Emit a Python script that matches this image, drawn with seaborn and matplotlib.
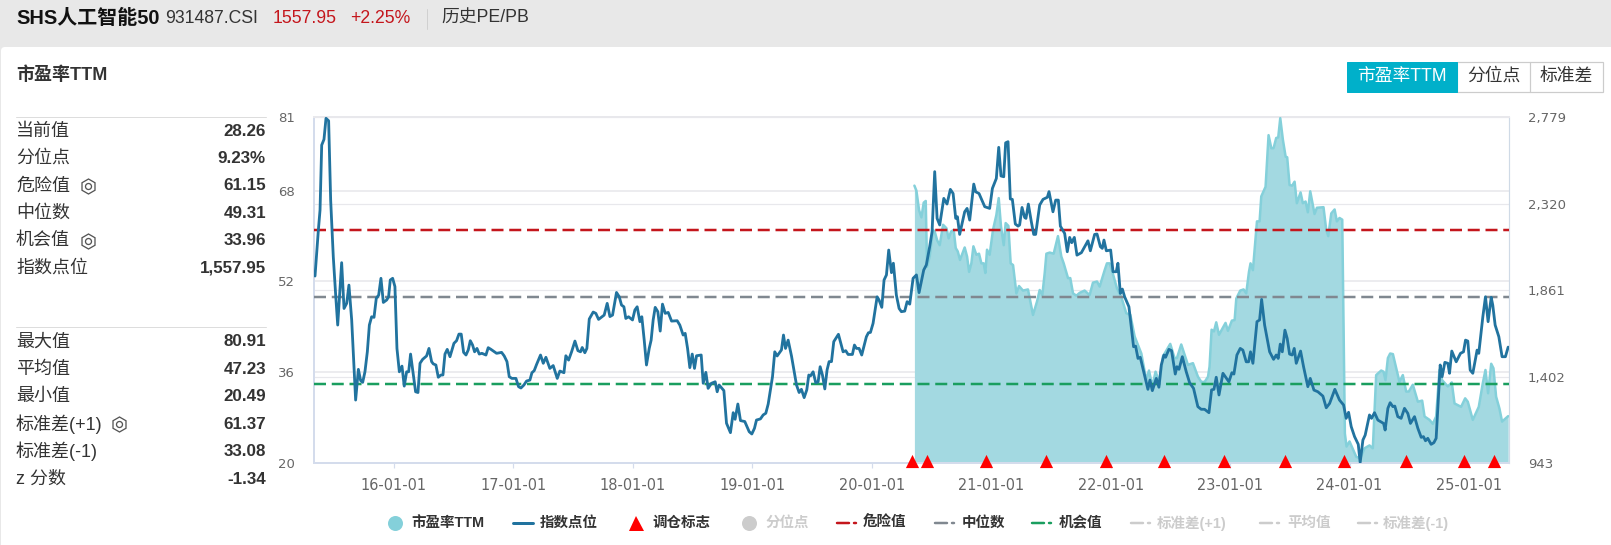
import matplotlib
matplotlib.use("Agg")
import matplotlib.pyplot as plt
import pandas as pd
import seaborn as sns
from matplotlib.lines import Line2D
from matplotlib.patches import FancyBboxPatch, Rectangle
from matplotlib.transforms import IdentityTransform

# year fraction + index points
index_dates = [
    2015.339, 2015.367, 2015.381, 2015.395, 2015.414, 2015.431, 2015.453, 2015.470, 2015.492, 2015.512,
    2015.529, 2015.562, 2015.582, 2015.604, 2015.623, 2015.646, 2015.679, 2015.702, 2015.721, 2015.738,
    2015.757, 2015.777, 2015.794, 2015.813, 2015.833, 2015.852, 2015.872, 2015.891, 2015.911, 2015.939,
    2015.955, 2015.969, 2015.989, 2016.008, 2016.025, 2016.045, 2016.067, 2016.086, 2016.106, 2016.123,
    2016.139, 2016.162, 2016.181, 2016.201, 2016.218, 2016.240, 2016.273, 2016.293, 2016.315, 2016.329,
    2016.351, 2016.371, 2016.393, 2016.410, 2016.427, 2016.446, 2016.469, 2016.502, 2016.524, 2016.544,
    2016.563, 2016.583, 2016.603, 2016.622, 2016.639, 2016.658, 2016.675, 2016.695, 2016.714, 2016.736,
    2016.770, 2016.789, 2016.812, 2016.859, 2016.901, 2016.923, 2016.946, 2016.965, 2016.987, 2017.021,
    2017.043, 2017.063, 2017.088, 2017.110, 2017.138, 2017.155, 2017.174, 2017.194, 2017.227, 2017.250,
    2017.272, 2017.305, 2017.333, 2017.367, 2017.389, 2017.423, 2017.439, 2017.462, 2017.487, 2017.515,
    2017.540, 2017.562, 2017.576, 2017.598, 2017.615, 2017.635, 2017.668, 2017.690, 2017.713, 2017.760,
    2017.785, 2017.808, 2017.830, 2017.863, 2017.886, 2017.905, 2017.925, 2017.941, 2017.964, 2017.997,
    2018.017, 2018.036, 2018.059, 2018.075, 2018.095, 2018.114, 2018.137, 2018.153, 2018.170, 2018.187,
    2018.209, 2018.229, 2018.248, 2018.271, 2018.296, 2018.324, 2018.371, 2018.393, 2018.421, 2018.438,
    2018.458, 2018.477, 2018.497, 2018.516, 2018.533, 2018.572, 2018.589, 2018.611, 2018.630, 2018.658,
    2018.689, 2018.706, 2018.722, 2018.762, 2018.784, 2018.817, 2018.840, 2018.856, 2018.879, 2018.901,
    2018.937, 2018.974, 2018.996, 2019.018, 2019.035, 2019.068, 2019.091, 2019.113, 2019.133, 2019.169,
    2019.188, 2019.208, 2019.244, 2019.261, 2019.278, 2019.300, 2019.328, 2019.370, 2019.392, 2019.411,
    2019.434, 2019.456, 2019.473, 2019.487, 2019.509, 2019.531, 2019.551, 2019.568, 2019.587, 2019.607,
    2019.626, 2019.643, 2019.663, 2019.682, 2019.721, 2019.760, 2019.782, 2019.802, 2019.838, 2019.855,
    2019.872, 2019.894, 2019.916, 2019.955, 2019.972, 2019.989, 2020.011, 2020.045, 2020.061, 2020.084,
    2020.103, 2020.123, 2020.142, 2020.165, 2020.181, 2020.206, 2020.229, 2020.248, 2020.276, 2020.296,
    2020.318, 2020.346, 2020.374, 2020.396, 2020.435, 2020.457, 2020.485, 2020.505, 2020.527, 2020.547,
    2020.569, 2020.603, 2020.630, 2020.658, 2020.681, 2020.703, 2020.717, 2020.736, 2020.778, 2020.798,
    2020.820, 2020.854, 2020.870, 2020.898, 2020.946, 2020.987, 2021.010, 2021.043, 2021.063, 2021.082,
    2021.105, 2021.121, 2021.141, 2021.160, 2021.177, 2021.202, 2021.225, 2021.238, 2021.258, 2021.280,
    2021.291, 2021.311, 2021.336, 2021.356, 2021.372, 2021.406, 2021.434, 2021.470, 2021.484, 2021.517,
    2021.540, 2021.562, 2021.579, 2021.615, 2021.637, 2021.657, 2021.674, 2021.696, 2021.718, 2021.755,
    2021.810, 2021.830, 2021.866, 2021.886, 2021.914, 2021.930, 2021.944, 2021.964, 2022.000, 2022.020,
    2022.047, 2022.061, 2022.081, 2022.098, 2022.117, 2022.153, 2022.192, 2022.209, 2022.229, 2022.248,
    2022.312, 2022.329, 2022.349, 2022.382, 2022.404, 2022.424, 2022.446, 2022.460, 2022.488, 2022.510,
    2022.541, 2022.555, 2022.572, 2022.600, 2022.633, 2022.661, 2022.694, 2022.730, 2022.758, 2022.786,
    2022.823, 2022.845, 2022.865, 2022.884, 2022.907, 2022.940, 2022.990, 2023.015, 2023.032, 2023.057,
    2023.085, 2023.107, 2023.135, 2023.155, 2023.171, 2023.191, 2023.225, 2023.247, 2023.264, 2023.289,
    2023.331, 2023.364, 2023.386, 2023.403, 2023.420, 2023.437, 2023.459, 2023.478, 2023.498, 2023.520,
    2023.537, 2023.554, 2023.590, 2023.615, 2023.651, 2023.671, 2023.702, 2023.735, 2023.777, 2023.805,
    2023.833, 2023.877, 2023.916, 2023.950, 2023.972, 2023.992, 2024.014, 2024.042, 2024.073, 2024.089,
    2024.112, 2024.131, 2024.167, 2024.184, 2024.209, 2024.237, 2024.285, 2024.298, 2024.321, 2024.340,
    2024.363, 2024.379, 2024.404, 2024.432, 2024.460, 2024.488, 2024.510, 2024.544, 2024.572, 2024.600,
    2024.619, 2024.636, 2024.655, 2024.683, 2024.706, 2024.725, 2024.759, 2024.775, 2024.798, 2024.823,
    2024.837, 2024.856, 2024.893, 2024.929, 2024.954, 2024.971, 2024.990, 2025.010, 2025.032, 2025.068,
    2025.082, 2025.116, 2025.138, 2025.160, 2025.186, 2025.199, 2025.219, 2025.250, 2025.277, 2025.305,
    2025.328,
]
index_values = [
    1935, 2179, 2285, 2630, 2660, 2772, 2759, 2338, 2037, 1834,
    1675, 2006, 1763, 1790, 1887, 1702, 1277, 1440, 1380, 1371,
    1427, 1533, 1675, 1719, 1716, 1817, 1834, 1923, 1795, 1808,
    1825, 1914, 1923, 1879, 1551, 1427, 1457, 1351, 1427, 1427,
    1521, 1410, 1321, 1317, 1472, 1493, 1511, 1551, 1481, 1469,
    1463, 1398, 1410, 1410, 1521, 1546, 1507, 1578, 1592, 1627,
    1627, 1530, 1516, 1543, 1592, 1569, 1533, 1551, 1521, 1525,
    1516, 1555, 1546, 1525, 1530, 1511, 1481, 1401, 1392, 1392,
    1348, 1341, 1357, 1378, 1383, 1422, 1433, 1466, 1516, 1472,
    1504, 1445, 1460, 1392, 1431, 1422, 1512, 1489, 1533, 1590,
    1539, 1533, 1556, 1528, 1551, 1707, 1744, 1737, 1705, 1728,
    1790, 1720, 1728, 1848, 1825, 1781, 1772, 1710, 1719, 1702,
    1755, 1772, 1693, 1719, 1595, 1463, 1551, 1595, 1702, 1769,
    1746, 1643, 1786, 1737, 1742, 1696, 1698, 1675, 1622, 1631,
    1551, 1449, 1521, 1445, 1512, 1516, 1366, 1424, 1339, 1366,
    1374, 1321, 1357, 1327, 1154, 1104, 1210, 1175, 1256, 1168,
    1163, 1109, 1097, 1127, 1171, 1177, 1198, 1207, 1256, 1401,
    1533, 1511, 1543, 1622, 1551, 1595, 1511, 1357, 1317, 1334,
    1290, 1331, 1410, 1405, 1427, 1369, 1374, 1454, 1410, 1336,
    1437, 1481, 1481, 1587, 1626, 1533, 1539, 1519, 1519, 1569,
    1551, 1551, 1516, 1613, 1634, 1636, 1684, 1825, 1808, 1769,
    1914, 1941, 2073, 1953, 2003, 1834, 1763, 1746, 1749, 1799,
    1786, 1923, 1941, 1847, 1967, 1994, 2091, 2170, 2489, 2241,
    2206, 2347, 2317, 2395, 2373, 2241, 2250, 2156, 2276, 2294,
    2232, 2423, 2382, 2373, 2303, 2294, 2400, 2453, 2618, 2466,
    2462, 2642, 2648, 2344, 2342, 2211, 2200, 2206, 2299, 2246,
    2241, 2317, 2223, 2156, 2156, 2312, 2342, 2353, 2383, 2276,
    2338, 2338, 2200, 2161, 2064, 2140, 2112, 2140, 2046, 2059,
    2122, 2069, 2156, 2158, 2091, 2082, 2126, 2069, 2073, 1958,
    1958, 2003, 1843, 1866, 1825, 1772, 1560, 1563, 1498, 1504,
    1334, 1383, 1327, 1392, 1345, 1463, 1516, 1504, 1546, 1539,
    1415, 1454, 1440, 1507, 1427, 1369, 1339, 1242, 1228, 1228,
    1210, 1331, 1334, 1398, 1304, 1419, 1374, 1422, 1415, 1516,
    1551, 1542, 1480, 1480, 1533, 1472, 1693, 1702, 1811, 1675,
    1533, 1493, 1516, 1498, 1574, 1533, 1648, 1604, 1521, 1516,
    1551, 1472, 1537, 1454, 1348, 1392, 1330, 1321, 1298, 1236,
    1259, 1334, 1277, 1251, 1180, 1212, 1136, 1083, 1042, 946,
    1065, 1091, 1198, 1180, 1210, 1171, 1153, 1118, 1233, 1263,
    1242, 1245, 1189, 1180, 1233, 1206, 1153, 1189, 1127, 1079,
    1083, 1061, 1074, 1042, 1051, 1074, 1463, 1401, 1477, 1472,
    1419, 1537, 1480, 1525, 1533, 1595, 1590, 1436, 1419, 1542,
    1525, 1719, 1825, 1693, 1822, 1781, 1675, 1613, 1507, 1507,
    1558,
]

pe_dates = [
    2020.357, 2020.374, 2020.396, 2020.416, 2020.435, 2020.452, 2020.463, 2020.485, 2020.513, 2020.527,
    2020.547, 2020.569, 2020.597, 2020.625, 2020.644, 2020.664, 2020.686, 2020.703, 2020.720, 2020.739,
    2020.778, 2020.798, 2020.815, 2020.834, 2020.851, 2020.876, 2020.898, 2020.918, 2020.937, 2020.951,
    2020.965, 2020.987, 2021.015, 2021.043, 2021.063, 2021.082, 2021.105, 2021.121, 2021.144, 2021.163,
    2021.183, 2021.211, 2021.233, 2021.266, 2021.308, 2021.350, 2021.384, 2021.406, 2021.428, 2021.448,
    2021.462, 2021.490, 2021.523, 2021.559, 2021.587, 2021.607, 2021.643, 2021.662, 2021.685, 2021.713,
    2021.741, 2021.782, 2021.824, 2021.852, 2021.886, 2021.908, 2021.950, 2021.969, 2021.992, 2022.014,
    2022.053, 2022.089, 2022.131, 2022.165, 2022.201, 2022.257, 2022.298, 2022.321, 2022.349, 2022.376,
    2022.410, 2022.438, 2022.499, 2022.535, 2022.555, 2022.591, 2022.647, 2022.689, 2022.731, 2022.759,
    2022.787, 2022.815, 2022.828, 2022.845, 2022.865, 2022.884, 2022.907, 2022.962, 2022.982, 2023.015,
    2023.038, 2023.052, 2023.085, 2023.113, 2023.135, 2023.158, 2023.171, 2023.191, 2023.225, 2023.247,
    2023.261, 2023.297, 2023.322, 2023.345, 2023.364, 2023.386, 2023.403, 2023.420, 2023.442, 2023.465,
    2023.478, 2023.498, 2023.520, 2023.540, 2023.559, 2023.590, 2023.609, 2023.632, 2023.651, 2023.671,
    2023.707, 2023.727, 2023.782, 2023.805, 2023.822, 2023.847, 2023.875, 2023.894, 2023.916, 2023.939,
    2023.950, 2023.961, 2023.975, 2024.000, 2024.056, 2024.089, 2024.126, 2024.167, 2024.195, 2024.223,
    2024.265, 2024.285, 2024.301, 2024.321, 2024.340, 2024.363, 2024.418, 2024.446, 2024.474, 2024.496,
    2024.530, 2024.572, 2024.608, 2024.628, 2024.670, 2024.697, 2024.725, 2024.753, 2024.775, 2024.823,
    2024.856, 2024.879, 2024.934, 2024.968, 2024.990, 2025.032, 2025.082, 2025.116, 2025.138, 2025.160,
    2025.186, 2025.205, 2025.227, 2025.255, 2025.277, 2025.328,
]
pe_values = [
    68.9, 68.0, 64.6, 63.3, 65.9, 66.2, 54.6, 56.4, 61.1, 60.8,
    59.3, 58.4, 62.0, 61.4, 59.6, 60.8, 61.1, 57.9, 57.3, 55.8,
    58.0, 56.4, 53.7, 55.2, 58.2, 56.7, 56.9, 55.2, 55.2, 53.5,
    57.6, 56.7, 61.1, 63.7, 66.7, 61.7, 58.4, 62.3, 61.8, 55.2,
    54.9, 49.9, 51.2, 50.4, 50.6, 46.1, 48.5, 50.5, 49.6, 53.5,
    56.9, 57.1, 56.9, 60.0, 56.4, 55.2, 52.6, 52.6, 49.9, 49.5,
    50.0, 50.4, 49.6, 51.8, 52.0, 51.1, 54.0, 55.2, 55.2, 53.7,
    50.8, 49.3, 46.4, 46.1, 42.3, 39.3, 34.6, 36.3, 33.5, 36.1,
    34.1, 38.8, 41.0, 38.5, 38.5, 40.9, 37.3, 37.6, 35.2, 34.3,
    34.3, 35.2, 37.0, 43.5, 43.2, 44.8, 42.6, 44.7, 43.3, 45.1,
    45.2, 49.0, 50.4, 50.6, 49.9, 53.7, 55.2, 54.0, 62.6, 62.6,
    67.0, 68.7, 77.8, 75.5, 75.5, 77.3, 77.4, 80.8, 77.0, 74.0,
    73.9, 69.0, 68.9, 69.6, 65.8, 67.7, 65.8, 66.1, 64.2, 67.9,
    63.9, 65.0, 65.1, 61.1, 60.0, 64.0, 64.7, 62.6, 63.2, 62.9,
    44.6, 25.2, 22.9, 23.8, 21.1, 20.8, 22.6, 23.1, 22.6, 35.5,
    36.3, 36.1, 34.6, 38.5, 39.3, 39.2, 34.3, 35.5, 32.6, 32.6,
    33.8, 30.8, 31.0, 28.2, 27.6, 26.9, 28.2, 36.4, 34.6, 33.5,
    34.2, 30.5, 29.9, 31.4, 30.8, 27.6, 29.9, 34.1, 36.4, 32.3,
    37.5, 36.7, 31.7, 29.6, 27.3, 28.26,
]

rebalance_dates = [2020.34, 2020.46, 2020.96, 2021.46, 2021.96, 2022.45, 2022.95, 2023.46, 2023.95, 2024.47, 2024.96, 2025.21]
rebalance_level = 20.3

danger_value = 61.15
median_value = 49.31
chance_value = 33.96

pe_ticks = [20, 36, 52, 68, 81]
index_ticks = [943, 1402, 1861, 2320, 2779]
year_ticks = [2016, 2017, 2018, 2019, 2020, 2021, 2022, 2023, 2024, 2025]
year_labels = ["16-01-01", "17-01-01", "18-01-01", "19-01-01", "20-01-01",
               "21-01-01", "22-01-01", "23-01-01", "24-01-01", "25-01-01"]

stats_top = ["当前值", "分位点", "危险值", "中位数", "机会值", "指数点位"]
stats_top_values = ["28.26", "9.23%", "61.15", "49.31", "33.96", "1,557.95"]
stats_bottom = ["最大值", "平均值", "最小值", "标准差(+1)", "标准差(-1)", "z 分数"]
stats_bottom_values = ["80.91", "47.23", "20.49", "61.37", "33.08", "-1.34"]

W, H = 1611, 545
BLUE = "#21739f"
PE_LINE = "#84d0da"
PE_FILL = "#a3d9e1"
RED = "#c4161c"
GREY = "#808890"
GREEN = "#1a9e5f"
OFF = "#cccccc"
TEXT = "#333333"

sns.set_theme(style="white")
plt.rcParams["font.family"] = ["Liberation Sans", "Noto Sans CJK SC", "DejaVu Sans"]


def fx(x):
    return x / W


def fy(y):
    return 1 - y / H


def pts(px):
    return px * 0.72


fig = plt.figure(figsize=(W / 100, H / 100), dpi=100, facecolor="#e8e8e8")


def label(x, y, s, size, color=TEXT, ha="left", bold=False, **kw):
    fig.text(fx(x), fy(y), s, fontsize=pts(size), color=color, ha=ha, va="center",
             fontweight="bold" if bold else "normal", **kw)


def hline(x0, x1, y, color="#dddddd", lw=1.0, **kw):
    fig.add_artist(Line2D([fx(x0), fx(x1)], [fy(y), fy(y)], color=color, lw=pts(lw), **kw))


def gear(x, y):
    fig.add_artist(Line2D([fx(x)], [fy(y)], marker="h", ms=pts(15), mfc="none", mec="#555555", mew=pts(1.3)))
    fig.add_artist(Line2D([fx(x)], [fy(y)], marker="o", ms=pts(6), mfc="none", mec="#555555", mew=pts(1.3)))


# white card, rounded at the top left, runs off the right and bottom edges
fig.add_artist(FancyBboxPatch((1, -20), W + 20, H - 47 + 20, boxstyle="round,pad=0,rounding_size=4",
                              transform=IdentityTransform(), fc="white", ec="none", zorder=-2))

# header
label(16, 18, "SHS人工智能50", 20, color="#111111", bold=True)
label(165, 18.5, "931487.CSI", 17.6, color="#333333")
label(273, 18.5, "1557.95", 17.6, color="#c4161c")
label(350, 18.5, "+2.25%", 17.6, color="#c4161c")
fig.add_artist(Line2D([fx(427), fx(427)], [fy(9), fy(29)], color="#d0d0d0", lw=pts(1)))
label(441, 18.5, "历史PE/PB", 17.8, color="#333333")
label(16, 75, "市盈率TTM", 18, color="#333333", bold=True)

# stats on the left
hline(16, 266, 117)
for i, (name, val) in enumerate(zip(stats_top, stats_top_values)):
    y = 131 + i * 27.4
    label(16, y, name, 18)
    label(266, y, val, 17, ha="right", bold=True)
hline(16, 266, 327)
for i, (name, val) in enumerate(zip(stats_bottom, stats_bottom_values)):
    y = 342 + i * 27.4
    label(16, y, name, 18)
    label(266, y, val, 17, ha="right", bold=True)
gear(88, 186)
gear(88, 241)
gear(119, 424)

# buttons
fig.add_artist(Rectangle((fx(1457), fy(92)), fx(146), fy(62) - fy(92), transform=fig.transFigure,
                         fc="white", ec="#cccccc", lw=pts(1.2)))
fig.add_artist(Line2D([fx(1530), fx(1530)], [fy(62), fy(92)], color="#cccccc", lw=pts(1.2)))
fig.add_artist(Rectangle((fx(1347), fy(92)), fx(110), fy(62) - fy(92), transform=fig.transFigure,
                         fc="#00b0ca", ec="#00b0ca", lw=pts(1)))
label(1402, 76.5, "市盈率TTM", 17.8, color="white", ha="center")
label(1493.5, 76.5, "分位点", 17.8, ha="center")
label(1566.5, 76.5, "标准差", 17.8, ha="center")

# chart, three layers so the fill hides the right-axis grid but not the index line
ax = fig.add_axes([fx(314), fy(463), fx(1509 - 314), fy(117) - fy(463)])
ax_right = ax.twinx()
ax_index = ax.twinx()
ax_right.set_zorder(1)
ax.set_zorder(2)
ax_index.set_zorder(3)
ax.patch.set_visible(False)
ax_index.patch.set_visible(False)
ax_right.patch.set_facecolor("white")

pe_df = pd.DataFrame({"date": pe_dates, "pe": pe_values})
index_df = pd.DataFrame({"date": index_dates, "points": index_values})

ax.fill_between(pe_df["date"], pe_df["pe"], 20, color=PE_FILL, lw=0, zorder=2)
sns.lineplot(data=pe_df, x="date", y="pe", ax=ax, color=PE_LINE, lw=pts(2.5), estimator=None, zorder=3)
sns.lineplot(data=index_df, x="date", y="points", ax=ax_index, color=BLUE, lw=pts(2.8), estimator=None)

for value, color in [(danger_value, RED), (median_value, GREY), (chance_value, GREEN)]:
    ax.axhline(value, color=color, lw=pts(2.5), dashes=(4.8, 2.3), zorder=4)

rebalance_df = pd.DataFrame({"date": rebalance_dates, "y": [rebalance_level] * len(rebalance_dates)})
sns.scatterplot(data=rebalance_df, x="date", y="y", ax=ax_index, marker="^", color="#ff0000", s=90,
                linewidth=0, clip_on=False, zorder=6,
                transform=ax.transData)

ax.set_xlim(2015.3305, 2025.335)
ax.set_ylim(20, 81)
ax_right.set_ylim(943, 2779)
ax_index.set_ylim(943, 2779)
ax_index.axis("off")

ax.set_xticks(year_ticks)
ax.set_xticklabels(year_labels)
ax.set_yticks(pe_ticks)
ax_right.set_yticks(index_ticks)
ax_right.set_yticklabels([f"{v:,}" for v in index_ticks])
ax.set_xlabel("")
ax.set_ylabel("")
ax_right.set_ylabel("")
ax.set_axisbelow(True)
ax.yaxis.grid(True, color="#e8e8ec", lw=pts(1.6))
ax_right.yaxis.grid(True, color="#e8e8ec", lw=pts(1.2))

ax.tick_params(axis="x", length=3.6, width=pts(1.2), color="#d4dcec", pad=7.4, bottom=True,
               labelsize=pts(14.5), labelcolor="#666666", labelfontfamily="DejaVu Sans")
ax.tick_params(axis="y", length=0, pad=14, labelsize=pts(13.2), labelcolor="#666666", labelfontfamily="DejaVu Sans")
ax_right.tick_params(axis="y", length=0, pad=13.7, labelsize=pts(13.2), labelcolor="#666666",
                     labelfontfamily="DejaVu Sans")

for a in (ax, ax_right):
    for side in a.spines:
        a.spines[side].set_visible(False)
ax.spines["left"].set_visible(True)
ax.spines["left"].set_color("#d4dcec")
ax.spines["left"].set_linewidth(pts(2))
ax.spines["bottom"].set_visible(True)
ax.spines["bottom"].set_color("#d4dcec")
ax.spines["bottom"].set_linewidth(pts(2))
ax.spines["top"].set_visible(True)
ax.spines["top"].set_color("#e8e8ec")
ax.spines["top"].set_linewidth(pts(2))
ax.spines["right"].set_visible(True)
ax.spines["right"].set_color("#cfdae6")
ax.spines["right"].set_linewidth(pts(1.2))

# legend row
LEG_Y = 523


def leg_text(x, s, on=True):
    label(x, LEG_Y, s, 14.5, color=TEXT if on else OFF, bold=True)


def leg_dash(x, color):
    fig.add_artist(Line2D([fx(x), fx(x + 12)], [fy(LEG_Y), fy(LEG_Y)], color=color, lw=pts(2.5)))
    fig.add_artist(Line2D([fx(x + 17), fx(x + 19)], [fy(LEG_Y), fy(LEG_Y)], color=color, lw=pts(2.5)))


fig.add_artist(Line2D([fx(395)], [fy(LEG_Y)], marker="o", ms=pts(15), color=PE_LINE, mew=0))
leg_text(411, "市盈率TTM")
fig.add_artist(Line2D([fx(513), fx(533)], [fy(LEG_Y), fy(LEG_Y)], color=BLUE, lw=pts(3)))
leg_text(540, "指数点位")
fig.add_artist(Line2D([fx(636)], [fy(LEG_Y)], marker="^", ms=pts(15), color="#ff0000", mew=0))
leg_text(652, "调仓标志")
fig.add_artist(Line2D([fx(749)], [fy(LEG_Y)], marker="o", ms=pts(15), color=OFF, mew=0))
leg_text(766, "分位点", on=False)
leg_dash(837, RED)
leg_text(863, "危险值")
leg_dash(935, GREY)
leg_text(962, "中位数")
leg_dash(1032, GREEN)
leg_text(1059, "机会值")
leg_dash(1131, OFF)
leg_text(1157, "标准差(+1)", on=False)
leg_dash(1260, OFF)
leg_text(1287, "平均值", on=False)
leg_dash(1358, OFF)
leg_text(1383, "标准差(-1)", on=False)

fig.savefig("out.png", dpi=100, facecolor=fig.get_facecolor())
